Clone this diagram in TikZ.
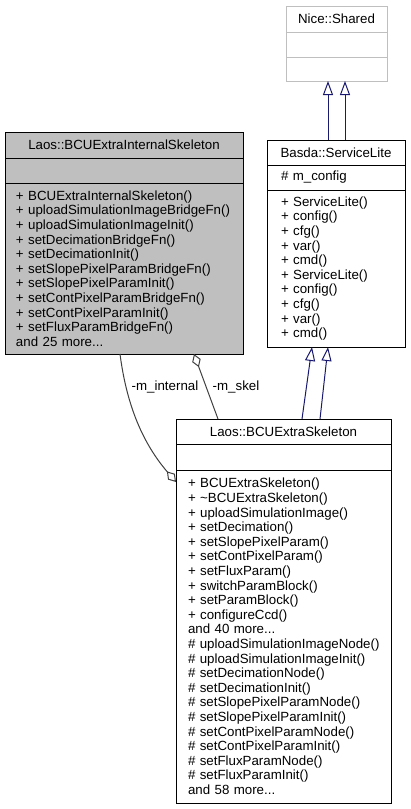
\documentclass[tikz,border=0pt]{standalone}
\usepackage{fontspec}
\setmainfont{Liberation Sans}
\usetikzlibrary{arrows.meta}
\definecolor{clsgray}{HTML}{BFBFBF}
\definecolor{inhblue}{HTML}{191970}
\definecolor{agggray}{HTML}{404040}
\newcommand\umlfont{\fontsize{13.3}{14.6}\selectfont\hyphenpenalty=10000 \exhyphenpenalty=10000 \hbadness=10000 \hfuzz=50pt\relax}
\begin{document}
\begin{tikzpicture}[x=1pt,y=-1pt,
  every node/.style={font=\umlfont, inner sep=0pt, outer sep=0pt},
  part/.style={draw=black, fill=white, line width=1pt},
  extpart/.style={draw=clsgray, fill=white, line width=1pt},
  ops/.style={align=left},
  inh/.style={draw=inhblue, line width=1pt, -{Triangle[open, length=14pt, width=10pt]}},
  agg/.style={draw=agggray, line width=1pt, -{Diamond[open, length=14pt, width=9pt]}},
  lbl/.style={text=black}]
\useasboundingbox (0,0) rectangle (411,809);

% Nice::Shared
\node[extpart, minimum width=101pt, minimum height=26pt, anchor=north west] (shT) at (286,6) {Nice::Shared};
\node[extpart, minimum width=101pt, minimum height=25pt, anchor=north] (shA) at (shT.south) {};
\node[extpart, minimum width=101pt, minimum height=24pt, anchor=north] (shO) at (shA.south) {};

% Laos::BCUExtraInternalSkeleton
\node[part, fill=clsgray, minimum width=238pt, minimum height=26pt, anchor=north west] (isT) at (5,132) {Laos::BCUExtraInternalSkeleton};
\node[part, fill=clsgray, minimum width=238pt, minimum height=25pt, anchor=north] (isA) at (isT.south) {};
\node[part, fill=clsgray, ops, text width=216pt, minimum width=238pt, minimum height=171pt, anchor=north] (isO) at (isA.south) {%
+~BCUExtraInternalSkeleton()\\
+~uploadSimulationImageBridgeFn()\\
+~uploadSimulationImageInit()\\
+~setDecimationBridgeFn()\\
+~setDecimationInit()\\
+~setSlopePixelParamBridgeFn()\\
+~setSlopePixelParamInit()\\
+~setContPixelParamBridgeFn()\\
+~setContPixelParamInit()\\
+~setFluxParamBridgeFn()\\
and~25~more...};

% Basda::ServiceLite
\node[part, minimum width=138pt, minimum height=25pt, anchor=north west] (bsT) at (267,140) {Basda::ServiceLite};
\node[part, ops, text width=110pt, minimum width=138pt, minimum height=25pt, anchor=north] (bsA) at (bsT.south) {\#~m\_config};
\node[part, ops, text width=110pt, minimum width=138pt, minimum height=157pt, anchor=north] (bsO) at (bsA.south) {%
+~ServiceLite()\\
+~config()\\
+~cfg()\\
+~var()\\
+~cmd()\\
+~ServiceLite()\\
+~config()\\
+~cfg()\\
+~var()\\
+~cmd()};

% Laos::BCUExtraSkeleton
\node[part, minimum width=215pt, minimum height=25pt, anchor=north west] (skT) at (176,419) {Laos::BCUExtraSkeleton};
\node[part, minimum width=215pt, minimum height=26pt, anchor=north] (skA) at (skT.south) {};
\node[part, ops, text width=191pt, minimum width=215pt, minimum height=333pt, anchor=north] (skO) at (skA.south) {%
+~BCUExtraSkeleton()\\
+~\textasciitilde BCUExtraSkeleton()\\
+~uploadSimulationImage()\\
+~setDecimation()\\
+~setSlopePixelParam()\\
+~setContPixelParam()\\
+~setFluxParam()\\
+~switchParamBlock()\\
+~setParamBlock()\\
+~configureCcd()\\
and~40~more...\\
\#~uploadSimulationImageNode()\\
\#~uploadSimulationImageInit()\\
\#~setDecimationNode()\\
\#~setDecimationInit()\\
\#~setSlopePixelParamNode()\\
\#~setSlopePixelParamInit()\\
\#~setContPixelParamNode()\\
\#~setContPixelParamInit()\\
\#~setFluxParamNode()\\
\#~setFluxParamInit()\\
and~58~more...};

% inheritance: ServiceLite -> Shared
\draw[inh] ([xshift=61pt]bsT.north west) -- ([xshift=42pt]shO.south west);
\draw[inh] ([xshift=78pt]bsT.north west) -- ([xshift=59pt]shO.south west);

% inheritance: BCUExtraSkeleton -> ServiceLite
\draw[inh] ([xshift=126pt]skT.north west) -- ([xshift=45pt]bsO.south west);
\draw[inh] ([xshift=144pt]skT.north west) -- ([xshift=61pt]bsO.south west);

% aggregation m_skel
\draw[agg] ([xshift=42pt]skT.north west) -- ([xshift=189pt]isO.south west);
% aggregation m_internal
\draw[agg] ([xshift=115pt]isO.south west) .. controls (126,400) and (140,440) .. ([yshift=-12pt]skO.north west);

\node[lbl] (lint) at (165,387) {-m\_internal};
\node[lbl] (lskel) at (236,387) {-m\_skel};
\end{tikzpicture}
\end{document}
